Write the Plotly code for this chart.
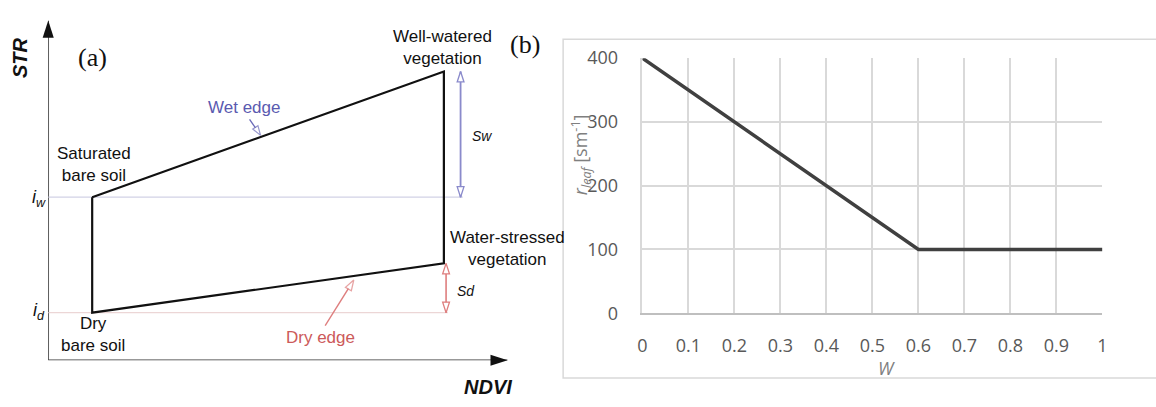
import plotly.graph_objects as go

W, H = 1156, 407

# ---------------- Panel (a) schematic data ----------------
ndvi_soil = 0.1          # bare soil NDVI
ndvi_veg = 0.9           # full vegetation NDVI
str_iw = 0.48            # saturated bare soil STR (i_w)
str_id = 0.14            # dry bare soil STR (i_d)
str_wet_veg = 0.85       # well-watered vegetation STR
str_dry_veg = 0.285      # water-stressed vegetation STR
ndvi_axis_max = 1.045
str_axis_max = 1.0

# trapezoid outline (wet edge, right side, dry edge, left side)
trap_x = [ndvi_soil, ndvi_veg, ndvi_veg, ndvi_soil, ndvi_soil]
trap_y = [str_iw, str_wet_veg, str_dry_veg, str_id, str_iw]

# reference lines i_w and i_d
iw_line_x = [0, 0.943]
id_line_x = [0, 0.909]

# Sw and Sd arrows
sw_x = 0.938
sd_x = 0.905

# edge pointer arrows (tail, tip)
wet_ptr_x = [0.458, 0.483]
wet_ptr_y = [0.709, 0.662]
dry_ptr_x = [0.63, 0.695]
dry_ptr_y = [0.102, 0.236]

# ---------------- Panel (b) data ----------------
w_vals = [0, 0.6, 1]
r_leaf = [400, 100, 100]
x_ticks = [0, 0.1, 0.2, 0.3, 0.4, 0.5, 0.6, 0.7, 0.8, 0.9, 1]
y_ticks = [0, 100, 200, 300, 400]


def px(x):
    return x / W


def py(y):
    return 1 - y / H


fig = go.Figure()

BLUE = "#8a8acb"
RED = "#de7e7e"

# axes of panel (a)
fig.add_trace(go.Scatter(x=[0, 0], y=[0, str_axis_max], mode="lines",
                         line=dict(color="#333333", width=1.6),
                         xaxis="x", yaxis="y", cliponaxis=False, hoverinfo="skip"))
fig.add_trace(go.Scatter(x=[0, ndvi_axis_max], y=[0, 0], mode="lines",
                         line=dict(color="#333333", width=1.6),
                         xaxis="x", yaxis="y", cliponaxis=False, hoverinfo="skip"))
fig.add_trace(go.Scatter(x=[0, ndvi_axis_max], y=[str_axis_max, 0], mode="markers",
                         marker=dict(symbol="arrow", size=18, angle=[0, 90],
                                     color="#111111", line=dict(width=0)),
                         xaxis="x", yaxis="y", cliponaxis=False, hoverinfo="skip"))

# i_w and i_d reference lines
fig.add_trace(go.Scatter(x=iw_line_x, y=[str_iw, str_iw], mode="lines",
                         line=dict(color="#d2d2e6", width=1.3),
                         xaxis="x", yaxis="y", cliponaxis=False, hoverinfo="skip"))
fig.add_trace(go.Scatter(x=id_line_x, y=[str_id, str_id], mode="lines",
                         line=dict(color="#ecd6d6", width=1.3),
                         xaxis="x", yaxis="y", cliponaxis=False, hoverinfo="skip"))

# trapezoid
fig.add_trace(go.Scatter(x=trap_x, y=trap_y, mode="lines",
                         line=dict(color="#111111", width=2.2),
                         xaxis="x", yaxis="y", cliponaxis=False, hoverinfo="skip"))

# Sw double arrow
fig.add_trace(go.Scatter(x=[sw_x, sw_x], y=[str_wet_veg, str_iw], mode="lines+markers",
                         line=dict(color=BLUE, width=1.8),
                         marker=dict(symbol="arrow", size=11, angle=[0, 180],
                                     color="white", line=dict(color=BLUE, width=1.3)),
                         xaxis="x", yaxis="y", cliponaxis=False, hoverinfo="skip"))
# Sd double arrow
fig.add_trace(go.Scatter(x=[sd_x, sd_x], y=[str_dry_veg, str_id], mode="lines+markers",
                         line=dict(color=RED, width=1.6),
                         marker=dict(symbol="arrow", size=11, angle=[0, 180],
                                     color="white", line=dict(color=RED, width=1.3)),
                         xaxis="x", yaxis="y", cliponaxis=False, hoverinfo="skip"))

# wet edge pointer
fig.add_trace(go.Scatter(x=wet_ptr_x, y=wet_ptr_y, mode="lines+markers",
                         line=dict(color="#6a6ab8", width=1.3),
                         marker=dict(symbol="arrow", size=[0, 10], angleref="previous",
                                     color="white", line=dict(color="#6a6ab8", width=1.2)),
                         xaxis="x", yaxis="y", cliponaxis=False, hoverinfo="skip"))
# dry edge pointer
fig.add_trace(go.Scatter(x=dry_ptr_x, y=dry_ptr_y, mode="lines+markers",
                         line=dict(color=RED, width=1.4),
                         marker=dict(symbol="arrow", size=[0, 11], angleref="previous",
                                     color="white", line=dict(color=RED, width=1.3)),
                         xaxis="x", yaxis="y", cliponaxis=False, hoverinfo="skip"))

# panel (b) line
fig.add_trace(go.Scatter(x=w_vals, y=r_leaf, mode="lines",
                         line=dict(color="#404040", width=3.5),
                         xaxis="x2", yaxis="y2", cliponaxis=False, hoverinfo="skip"))

SANS = "Liberation Sans, Arial, sans-serif"
ann = []


def label(x, y, text, size=17, color="#111111", family=SANS, **kw):
    ann.append(dict(x=px(x), y=py(y), xref="paper", yref="paper", text=text,
                    showarrow=False, font=dict(size=size, color=color, family=family),
                    xanchor=kw.pop("xanchor", "center"), yanchor=kw.pop("yanchor", "middle"), **kw))


label(88, 47, "(a)", size=26, family="Liberation Serif, Times New Roman, serif")
label(525, 33, "(b)", size=26, family="Liberation Serif, Times New Roman, serif")
label(15, 47, "<b><i>STR</i></b>", size=20, textangle=-90)
label(487, 397, "<b><i>NDVI</i></b>", size=20)
label(90, 161, "Saturated<br>bare soil", size=17)
label(89, 342, "Dry<br>bare soil", size=17)
label(441, 37, "Well-watered<br>vegetation", size=17)
label(507, 250, "Water-stressed<br>vegetation", size=17)
label(241, 100, "Wet edge", size=17, color="#5a5ab0")
label(318, 345, "Dry edge", size=17, color="#cc5a5a")
label(481, 131, "<i>Sw</i>", size=14)
label(465, 295, "<i>Sd</i>", size=14)
label(34, 197, "<i>i<sub>w</sub></i>", size=18)
label(34, 317, "<i>i<sub>d</sub></i>", size=18)

# panel (b) titles
label(581, 150, "<i>r<sub>leaf</sub></i> [sm<sup>-1</sup>]", size=18, color="#7f7f7f",
      family="Open Sans, sans-serif", textangle=-90)
label(889, 377, "<i>W</i>", size=18, color="#7f7f7f", family="Open Sans, sans-serif")

fig.update_layout(
    width=W, height=H,
    margin=dict(l=0, r=0, t=0, b=0),
    paper_bgcolor="white", plot_bgcolor="white",
    showlegend=False,
    annotations=ann,
    shapes=[dict(type="rect", xref="paper", yref="paper",
                 x0=px(563), x1=px(1165), y0=py(388), y1=py(28),
                 line=dict(color="#d9d9d9", width=1.5), layer="below")],
    xaxis=dict(domain=[px(43.6), px(507)], range=[0, ndvi_axis_max], visible=False),
    yaxis=dict(domain=[py(369), py(8)], range=[0, str_axis_max], visible=False),
    xaxis2=dict(domain=[px(643), px(1107)], range=[0, 1], anchor="y2",
                tickvals=x_ticks, ticktext=[str(v) for v in x_ticks],
                showgrid=True, gridcolor="#d9d9d9", gridwidth=1.5,
                showline=True, linecolor="#bfbfbf", linewidth=1.5,
                zeroline=False, ticks="outside", ticklen=15, tickcolor="rgba(0,0,0,0)",
                tickfont=dict(size=18, color="#595959", family="Open Sans, sans-serif"),
                mirror=False),
    yaxis2=dict(domain=[py(319), py(48)], range=[0, 400], anchor="x2",
                tickvals=y_ticks,
                showgrid=True, gridcolor="#d9d9d9", gridwidth=1.5,
                showline=True, linecolor="#d9d9d9", linewidth=1.5,
                zeroline=False, ticks="outside", ticklen=19, tickcolor="rgba(0,0,0,0)",
                tickfont=dict(size=18, color="#595959", family="Open Sans, sans-serif")),
)

fig.write_html("out.html")
